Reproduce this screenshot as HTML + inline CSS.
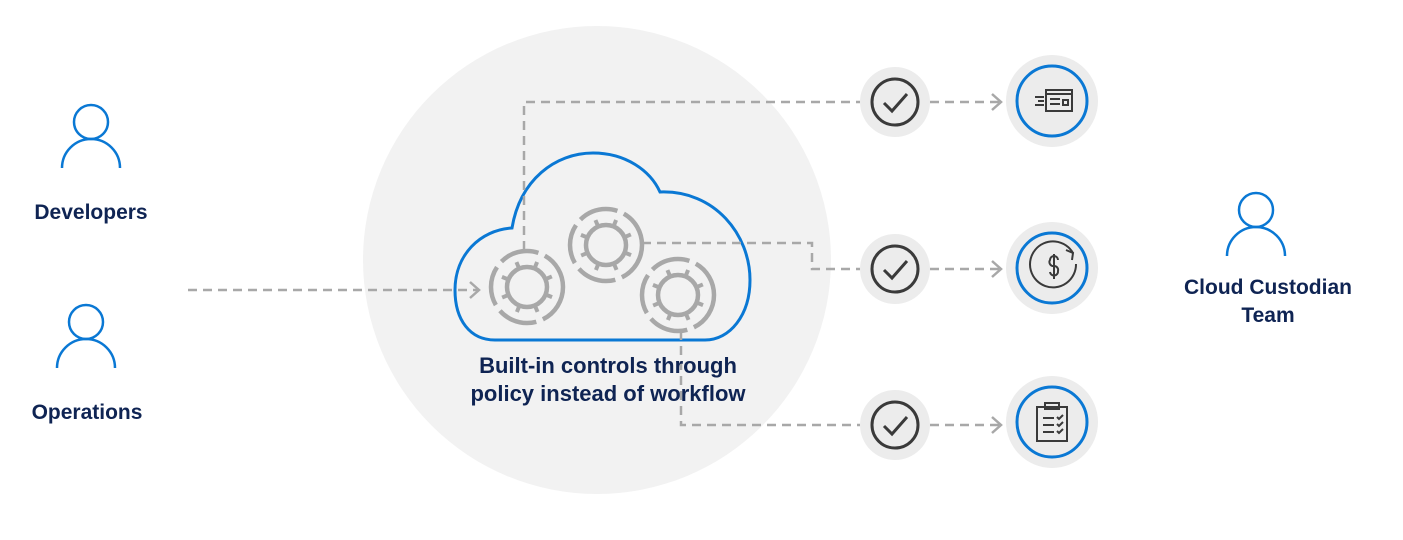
<!DOCTYPE html>
<html><head><style>
html,body{margin:0;padding:0;background:#fff;width:1403px;height:540px;overflow:hidden}
svg{display:block}
text{font-family:"Liberation Sans",sans-serif;font-weight:bold;fill:#0f2453}
</style></head><body>
<svg width="1403" height="540" viewBox="0 0 1403 540" xmlns="http://www.w3.org/2000/svg">
<defs>
<g id="gear">
<circle r="36" fill="none" stroke="#a8a8a8" stroke-width="4.5" stroke-dasharray="40 7"/>
<circle r="20" fill="none" stroke="#a8a8a8" stroke-width="4.5"/>
<g stroke="#a8a8a8" stroke-width="4">
<line x1="0" y1="-20" x2="0" y2="-27" transform="rotate(22)"/>
<line x1="0" y1="-20" x2="0" y2="-27" transform="rotate(67)"/>
<line x1="0" y1="-20" x2="0" y2="-27" transform="rotate(112)"/>
<line x1="0" y1="-20" x2="0" y2="-27" transform="rotate(157)"/>
<line x1="0" y1="-20" x2="0" y2="-27" transform="rotate(202)"/>
<line x1="0" y1="-20" x2="0" y2="-27" transform="rotate(247)"/>
<line x1="0" y1="-20" x2="0" y2="-27" transform="rotate(292)"/>
<line x1="0" y1="-20" x2="0" y2="-27" transform="rotate(337)"/>
</g>
</g>
<g id="check">
<circle r="35" fill="#ececec"/>
<circle r="23" fill="none" stroke="#3a3a3a" stroke-width="3"/>
<path d="M-11 1 L-3 9 L12 -8" fill="none" stroke="#3a3a3a" stroke-width="3"/>
</g>
<g id="person">
<circle cx="0" cy="0" r="17" fill="none" stroke="#0a78d4" stroke-width="2.5"/>
<path d="M-29 47 A29 29 0 0 1 29 47" fill="none" stroke="#0a78d4" stroke-width="2.5" transform="translate(0,-1)"/>
</g>
</defs>
<circle cx="597" cy="260" r="234" fill="#f2f2f2"/>
<!-- cloud -->
<path d="M495 340 C470 340 455 320 455 290 C455 255 480 230 512 228 C520 180 555 153 593 153 C625 153 650 170 660 192 C715 190 750 235 750 280 C750 315 730 340 705 340 Z" fill="none" stroke="#0a78d4" stroke-width="3"/>
<!-- connectors -->
<g stroke="#a8a8a8" stroke-width="2.5" fill="none" stroke-dasharray="9 6">
<path d="M188 290 H478"/>
<path d="M524 250 V102 H860"/>
<path d="M642 243 H812 V269 H860"/>
<path d="M681 331 V425 H860"/>
<path d="M930 102 H1000"/>
<path d="M930 269 H1000"/>
<path d="M930 425 H1000"/>
</g>
<g stroke="#a8a8a8" stroke-width="2.5" fill="none">
<path d="M470 282 L479 290 L470 298"/>
<path d="M992 94 L1001 102 L992 110"/>
<path d="M992 261 L1001 269 L992 277"/>
<path d="M992 417 L1001 425 L992 433"/>
</g>
<use href="#gear" x="527" y="287"/>
<use href="#gear" x="606" y="245"/>
<use href="#gear" x="678" y="295"/>
<use href="#check" x="895" y="102"/>
<use href="#check" x="895" y="269"/>
<use href="#check" x="895" y="425"/>
<!-- right circles -->
<g>
<circle cx="1052" cy="101" r="46" fill="#ececec"/><circle cx="1052" cy="101" r="35" fill="none" stroke="#0a78d4" stroke-width="3"/>
<circle cx="1052" cy="268" r="46" fill="#ececec"/><circle cx="1052" cy="268" r="35" fill="none" stroke="#0a78d4" stroke-width="3"/>
<circle cx="1052" cy="422" r="46" fill="#ececec"/><circle cx="1052" cy="422" r="35" fill="none" stroke="#0a78d4" stroke-width="3"/>
</g>
<g stroke="#3a3a3a" stroke-width="2" fill="none">
<rect x="1046" y="90" width="26" height="21"/>
<path d="M1046 94 H1072"/>
<path d="M1050 99 H1060 M1050 104 H1060"/>
<rect x="1063" y="100" width="5" height="5"/>
<path d="M1035 97 H1044 M1038 101 H1044 M1035 105 H1044"/>
<path d="M1073 253 A23 23 0 1 0 1076 264"/>
<path d="M1066 250 L1073 253 L1072 260"/>
<path d="M1054 279 V254 M1058 260 A4 4 0 0 0 1050 260 A4 4 0 0 0 1054 266 A4 4 0 0 1 1058 271 A4 4 0 0 1 1050 272"/>
<rect x="1037" y="407" width="30" height="34"/>
<rect x="1045" y="403" width="14" height="6"/>
<path d="M1043 418 H1054 M1043 425 H1054 M1043 432 H1054 M1057 417 l2 2 l4 -4 M1057 424 l2 2 l4 -4 M1057 431 l2 2 l4 -4"/>
</g>
<!-- people -->
<use href="#person" x="91" y="122"/>
<use href="#person" x="86" y="322"/>
<use href="#person" x="1256" y="210"/>
<g font-size="21" text-anchor="middle">
<text x="91" y="219">Developers</text>
<text x="87" y="419">Operations</text>
<text x="1268" y="294">Cloud Custodian</text>
<text x="1268" y="322">Team</text>
<text x="608" y="373" font-size="22">Built-in controls through</text>
<text x="608" y="401" font-size="22">policy instead of workflow</text>
</g>
</svg>
</body></html>
